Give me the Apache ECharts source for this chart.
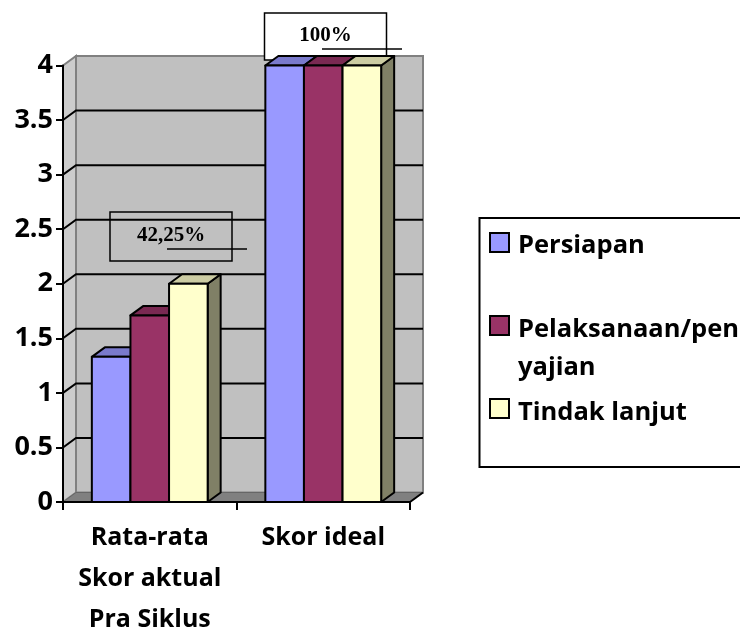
<!DOCTYPE html>
<html>
<head>
<meta charset="utf-8">
<style>
  html, body { margin: 0; padding: 0; background: #fff; }
  #chart { width: 740px; height: 628px; overflow: hidden; }
</style>
<script src="https://cdn.jsdelivr.net/npm/echarts@6/dist/echarts.min.js"></script>
</head>
<body>
<div id="chart"></div>
<script>
const categories = ["Rata-rata\nSkor aktual\nPra Siklus", "Skor ideal"];
const seriesNames = ["Persiapan", "Pelaksanaan/penyajian", "Tindak lanjut"];
const persiapan = [1.33, 4];
const pelaksanaan = [1.71, 4];
const tindakLanjut = [2, 4];
const gridValues = [0.5, 1, 1.5, 2, 2.5, 3, 3.5];

const frontColors = ["#9999FF", "#993366", "#FFFFCC"];
const topColors = ["#7A7ACC", "#7A2952", "#CCCCA3"];
const sideColors = ["#6B6BB3", "#6B2447", "#808066"];

const depthX = 13;
const depthY = -9.5;
const barShare = 0.2225; // bar width as part of the category band
const labelFont = "'Open Sans', Lato, sans-serif";

function renderWall(params) {
  const c = params.coordSys;
  const l = c.x, r = c.x + c.width, t = c.y, b = c.y + c.height;
  const wallStroke = { stroke: "#808080", lineWidth: 2 };
  return {
    type: "group",
    children: [
      { type: "polygon", shape: { points: [[l + depthX, t + depthY], [r + depthX, t + depthY], [r + depthX, b + depthY], [l + depthX, b + depthY]] },
        style: { fill: "#C0C0C0", ...wallStroke } },
      { type: "polygon", shape: { points: [[l, t], [l + depthX, t + depthY], [l + depthX, b + depthY], [l, b]] },
        style: { fill: "#CCCCCC", ...wallStroke } },
      { type: "polygon", shape: { points: [[l, b], [l + depthX, b + depthY], [r + depthX, b + depthY], [r, b]] },
        style: { fill: "#808080", stroke: "#666666", lineWidth: 1 } },
      { type: "line", shape: { x1: r, y1: b, x2: r + depthX, y2: b + depthY }, style: { stroke: "#000", lineWidth: 2 } },
    ],
  };
}

function renderGridLine(params, api) {
  const c = params.coordSys;
  const y = api.coord([0, api.value(1)])[1];
  return {
    type: "polyline",
    shape: { points: [[c.x, y], [c.x + depthX, y + depthY], [c.x + c.width + depthX, y + depthY]] },
    style: { stroke: "#000", lineWidth: 2, fill: null },
  };
}

function makeBarRenderer(idx) {
  return function (params, api) {
    const p = api.coord([api.value(0), api.value(1)]);
    const base = api.coord([api.value(0), 0]);
    const w = api.size([1, 0])[0] * barShare;
    const x0 = p[0] + (idx - 1.5) * w;
    const x1 = x0 + w;
    const y = p[1];
    const line = { stroke: "#000", lineWidth: 2, lineJoin: "round" };
    return {
      type: "group",
      children: [
        { type: "polygon", shape: { points: [[x1, y], [x1 + depthX, y + depthY], [x1 + depthX, base[1] + depthY], [x1, base[1]]] },
          style: { fill: sideColors[idx], ...line } },
        { type: "polygon", shape: { points: [[x0, y], [x0 + depthX, y + depthY], [x1 + depthX, y + depthY], [x1, y]] },
          style: { fill: topColors[idx], ...line } },
        { type: "rect", shape: { x: x0, y: y, width: w, height: base[1] - y },
          style: { fill: frontColors[idx], ...line } },
      ],
    };
  };
}

function barSeries(idx, values) {
  return {
    type: "custom",
    name: seriesNames[idx],
    z: 3,
    clip: false,
    encode: { x: 0, y: 1 },
    renderItem: makeBarRenderer(idx),
    data: values.map((v, i) => [i, v]),
  };
}

// legend is drawn by hand: icon sits on first text line, text wraps and runs off the page
const legendRows = [
  { icon: 233, y: 246, lines: ["Persiapan"] },
  { icon: 316, y: 330, lines: ["Pelaksanaan/pen", "yajian"] },
  { icon: 399, y: 413, lines: ["Tindak lanjut"] },
];
const legendItems = [];
legendRows.forEach((row, i) => {
  legendItems.push({
    type: "rect", z: 5,
    shape: { x: 490, y: row.icon, width: 19, height: 19 },
    style: { fill: frontColors[i], stroke: "#000", lineWidth: 2 },
  });
  row.lines.forEach((text, k) => {
    legendItems.push({
      type: "text", z: 5, x: 518, y: row.y + k * 38,
      style: { text, fill: "#000", font: "bold 25.5px " + labelFont, textVerticalAlign: "middle" },
    });
  });
});

function noteBox(x, y, w, h, fill, text, lineX1, lineX2, lineY, textY) {
  return [
    { type: "rect", z: 1, shape: { x, y, width: w, height: h }, style: { fill, stroke: "#000", lineWidth: 1.5 } },
    { type: "text", z: 1, x: x + w / 2, y: textY,
      style: { text, fill: "#000", font: "bold 21px 'Liberation Serif', serif", textAlign: "center", textVerticalAlign: "middle" } },
    { type: "line", z: 6, shape: { x1: lineX1, y1: lineY, x2: lineX2, y2: lineY }, style: { stroke: "#000", lineWidth: 1.5 } },
  ];
}

const chart = echarts.init(document.getElementById("chart"));
chart.setOption({
  animation: false,
  backgroundColor: "#fff",
  grid: { left: 63, right: 330, top: 65.5, bottom: 126, outerBoundsMode: "none" },
  xAxis: {
    type: "category",
    data: categories,
    z: 4,
    axisLine: { show: true, lineStyle: { color: "#000", width: 2 } },
    axisTick: { show: true, length: 8, lineStyle: { color: "#000", width: 2 } },
    axisLabel: { color: "#000", fontFamily: labelFont, fontWeight: "bold", fontSize: 25, lineHeight: 41, margin: 15, interval: 0 },
  },
  yAxis: {
    type: "value",
    min: 0,
    max: 4,
    interval: 0.5,
    z: 4,
    splitLine: { show: false },
    axisLine: { show: true, lineStyle: { color: "#000", width: 2 } },
    axisTick: { show: true, length: 7, lineStyle: { color: "#000", width: 2 } },
    axisLabel: { color: "#000", fontFamily: labelFont, fontWeight: "bold", fontSize: 27, margin: 10 },
  },
  graphic: {
    elements: [
      ...noteBox(110, 212, 122, 49, "transparent", "42,25%", 167, 247, 249, 236),
      ...noteBox(264.5, 13, 122, 47, "#fff", "100%", 322, 402, 49, 36),
      { type: "rect", z: 5, shape: { x: 479.5, y: 218, width: 300, height: 249 }, style: { fill: "#fff", stroke: "#000", lineWidth: 2 } },
      ...legendItems,
    ],
  },
  series: [
    { type: "custom", z: 0, clip: false, silent: true, renderItem: renderWall, encode: { x: 0, y: 1 }, data: [[0, 0]] },
    { type: "custom", z: 0, clip: false, silent: true, renderItem: renderGridLine, encode: { x: 0, y: 1 }, data: gridValues.map((v) => [0, v]) },
    barSeries(0, persiapan),
    barSeries(1, pelaksanaan),
    barSeries(2, tindakLanjut),
  ],
});
</script>
</body>
</html>
